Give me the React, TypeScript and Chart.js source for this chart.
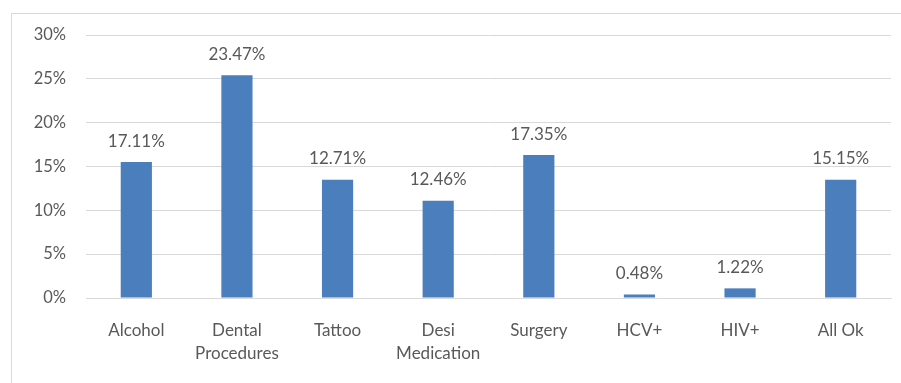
import React, { useEffect, useRef } from "react";
import { Chart, registerables } from "chart.js";

Chart.register(...registerables);

const categories: (string | string[])[] = [
  "Alcohol",
  ["Dental", "Procedures"],
  "Tattoo",
  ["Desi", "Medication"],
  "Surgery",
  "HCV+",
  "HIV+",
  "All Ok",
];
// bar heights as drawn (percent)
const barValues = [15.5, 25.4, 13.5, 11.1, 16.3, 0.4, 1.1, 13.5];
// printed data labels
const dataLabels = ["17.11%", "23.47%", "12.71%", "12.46%", "17.35%", "0.48%", "1.22%", "15.15%"];
const yTicks = [0, 5, 10, 15, 20, 25, 30];

const FONT = "Lato, 'Open Sans', sans-serif";
const TEXT = "#595959";

export default function App() {
  const ref = useRef<HTMLCanvasElement | null>(null);
  useEffect(() => {
    document.body.style.margin = "0";
    const canvas = ref.current!;
    const borderPlugin = {
      id: "outerBorder",
      beforeDraw(chart: any) {
        const ctx = chart.ctx;
        ctx.save();
        ctx.fillStyle = "#ffffff";
        ctx.fillRect(0, 0, chart.width, chart.height);
        ctx.strokeStyle = "#d9d9d9";
        ctx.lineWidth = 1;
        ctx.strokeRect(11.5, 13.5, chart.width + 20, chart.height + 20);
        ctx.restore();
      },
    };
    const labelPlugin = {
      id: "valueLabels",
      afterDatasetsDraw(chart: any) {
        const ctx = chart.ctx;
        const meta = chart.getDatasetMeta(0);
        ctx.save();
        ctx.font = `17px ${FONT}`;
        ctx.fillStyle = TEXT;
        ctx.textAlign = "center";
        ctx.textBaseline = "middle";
        meta.data.forEach((el: any, i: number) => {
          ctx.fillText(dataLabels[i], el.x, el.y - 21);
        });
        ctx.restore();
      },
    };
    const chart = new Chart(canvas, {
      type: "bar",
      data: {
        labels: categories as any,
        datasets: [
          {
            data: barValues,
            backgroundColor: "#4b7ebc",
            barPercentage: 0.31,
            categoryPercentage: 1,
          },
        ],
      },
      options: {
        animation: false,
        responsive: false,
        maintainAspectRatio: false,
        layout: { padding: { top: 35, right: 10, left: 0, bottom: 0 } },
        plugins: { legend: { display: false }, tooltip: { enabled: false } },
        scales: {
          x: {
            grid: { display: false, drawTicks: false },
            border: { display: true, color: "#d9d9d9" },
            ticks: {
              color: TEXT,
              font: { family: FONT, size: 17, lineHeight: 1.35 },
              padding: 21,
              maxRotation: 0,
              autoSkip: false,
            },
            afterFit(s: any) {
              s.height = 85;
            },
          },
          y: {
            min: 0,
            max: 30,
            afterBuildTicks(s: any) {
              s.ticks = yTicks.map((v) => ({ value: v }));
            },
            grid: { color: "#d9d9d9", drawTicks: false },
            border: { display: false },
            ticks: {
              color: TEXT,
              font: { family: FONT, size: 16.5 },
              padding: 20,
              callback: (v: any) => `${v}%`,
            },
            afterFit(s: any) {
              s.width = 86;
            },
          },
        },
      },
      plugins: [borderPlugin, labelPlugin],
    });
    return () => chart.destroy();
  }, []);
  return <canvas ref={ref} width={901} height={383} style={{ display: "block" }} />;
}
